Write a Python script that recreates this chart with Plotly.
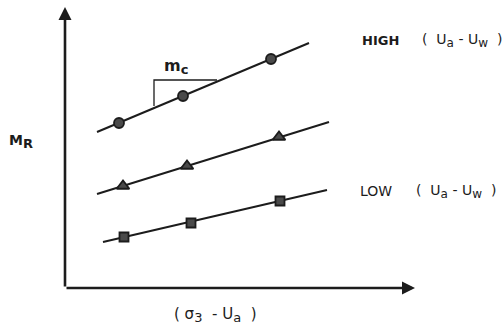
import plotly.graph_objects as go

# Data (conceptual units: origin at the axes corner)
high_line_x = [32, 244]
high_line_y = [156, 245]
high_pts_x = [54, 118, 206]
high_pts_y = [165, 192, 229]

mid_line_x = [32, 264]
mid_line_y = [94, 166]
mid_pts_x = [58, 122, 214]
mid_pts_y = [102, 122, 151]

low_line_x = [38, 262]
low_line_y = [46, 98]
low_pts_x = [59, 126, 215]
low_pts_y = [51, 65, 87]

slope_x = [89, 89, 152]
slope_y = [182, 208, 208]

x_axis_end = 350
y_axis_end = 281

INK = "#1c1c1c"
FONT = "DejaVu Sans"


def sub(t, size=12):
    return f"<sub><span style='font-size:{size}px'>{t}</span></sub>"


fig = go.Figure()

for lx, ly in [(high_line_x, high_line_y), (mid_line_x, mid_line_y), (low_line_x, low_line_y)]:
    fig.add_trace(go.Scatter(x=lx, y=ly, mode="lines",
                             line=dict(color=INK, width=2), hoverinfo="skip"))

fig.add_trace(go.Scatter(x=slope_x, y=slope_y, mode="lines",
                         line=dict(color=INK, width=1.3), hoverinfo="skip"))

for px, py, sym, sz in [(high_pts_x, high_pts_y, "circle", 10),
                        (mid_pts_x, mid_pts_y, "triangle-up", 11),
                        (low_pts_x, low_pts_y, "square", 9)]:
    fig.add_trace(go.Scatter(x=px, y=py, mode="markers",
                             marker=dict(symbol=sym, size=sz, color="#4a4a4a",
                                         line=dict(color=INK, width=1.8)),
                             hoverinfo="skip"))

paren = f"(  U{sub('a')} - U{sub('w')}  )"

annotations = [
    # axes with arrowheads
    dict(x=0, y=y_axis_end, ax=0, ay=0, xref="x", yref="y", axref="x", ayref="y",
         text="", showarrow=True, arrowhead=2, arrowsize=1.0, arrowwidth=2.6, arrowcolor=INK),
    dict(x=x_axis_end, y=0, ax=0, ay=0, xref="x", yref="y", axref="x", ayref="y",
         text="", showarrow=True, arrowhead=2, arrowsize=1.0, arrowwidth=2.6, arrowcolor=INK),
    # labels
    dict(x=295, y=248, text="<b>HIGH</b>", xanchor="left", yanchor="middle"),
    dict(x=355, y=248, text=paren, xanchor="left", yanchor="middle",
         font=dict(family=FONT, size=14, color=INK)),
    dict(x=293, y=97, text="LOW", xanchor="left", yanchor="middle",
         font=dict(family=FONT, size=14, color=INK)),
    dict(x=349, y=97, text=paren, xanchor="left", yanchor="middle",
         font=dict(family=FONT, size=14, color=INK)),
    dict(x=97, y=222, text="<b>m" + sub("<b>c</b>", 13) + "</b>", xanchor="left", yanchor="middle",
         font=dict(family=FONT, size=16, color=INK)),
    dict(x=-58, y=147, text="<b>M</b>" + sub("<b>R</b>", 13), xanchor="left", yanchor="middle",
         font=dict(family=FONT, size=14, color=INK)),
    dict(x=107, y=-27, text="( σ" + sub("3", 13) + "  - U" + sub("a", 13) + "  )",
         xanchor="left", yanchor="middle",
         font=dict(family=FONT, size=15, color=INK)),
]
for a in annotations:
    a.setdefault("showarrow", False)
    a.setdefault("xref", "x")
    a.setdefault("yref", "y")
    a.setdefault("font", dict(family=FONT, size=13, color=INK))

fig.update_layout(
    width=504, height=325,
    margin=dict(l=0, r=0, t=0, b=0),
    paper_bgcolor="white", plot_bgcolor="white",
    showlegend=False,
    xaxis=dict(range=[-65, 439], visible=False, fixedrange=True),
    yaxis=dict(range=[-37, 288], visible=False, fixedrange=True),
    annotations=annotations,
)

fig.write_html("out.html")
